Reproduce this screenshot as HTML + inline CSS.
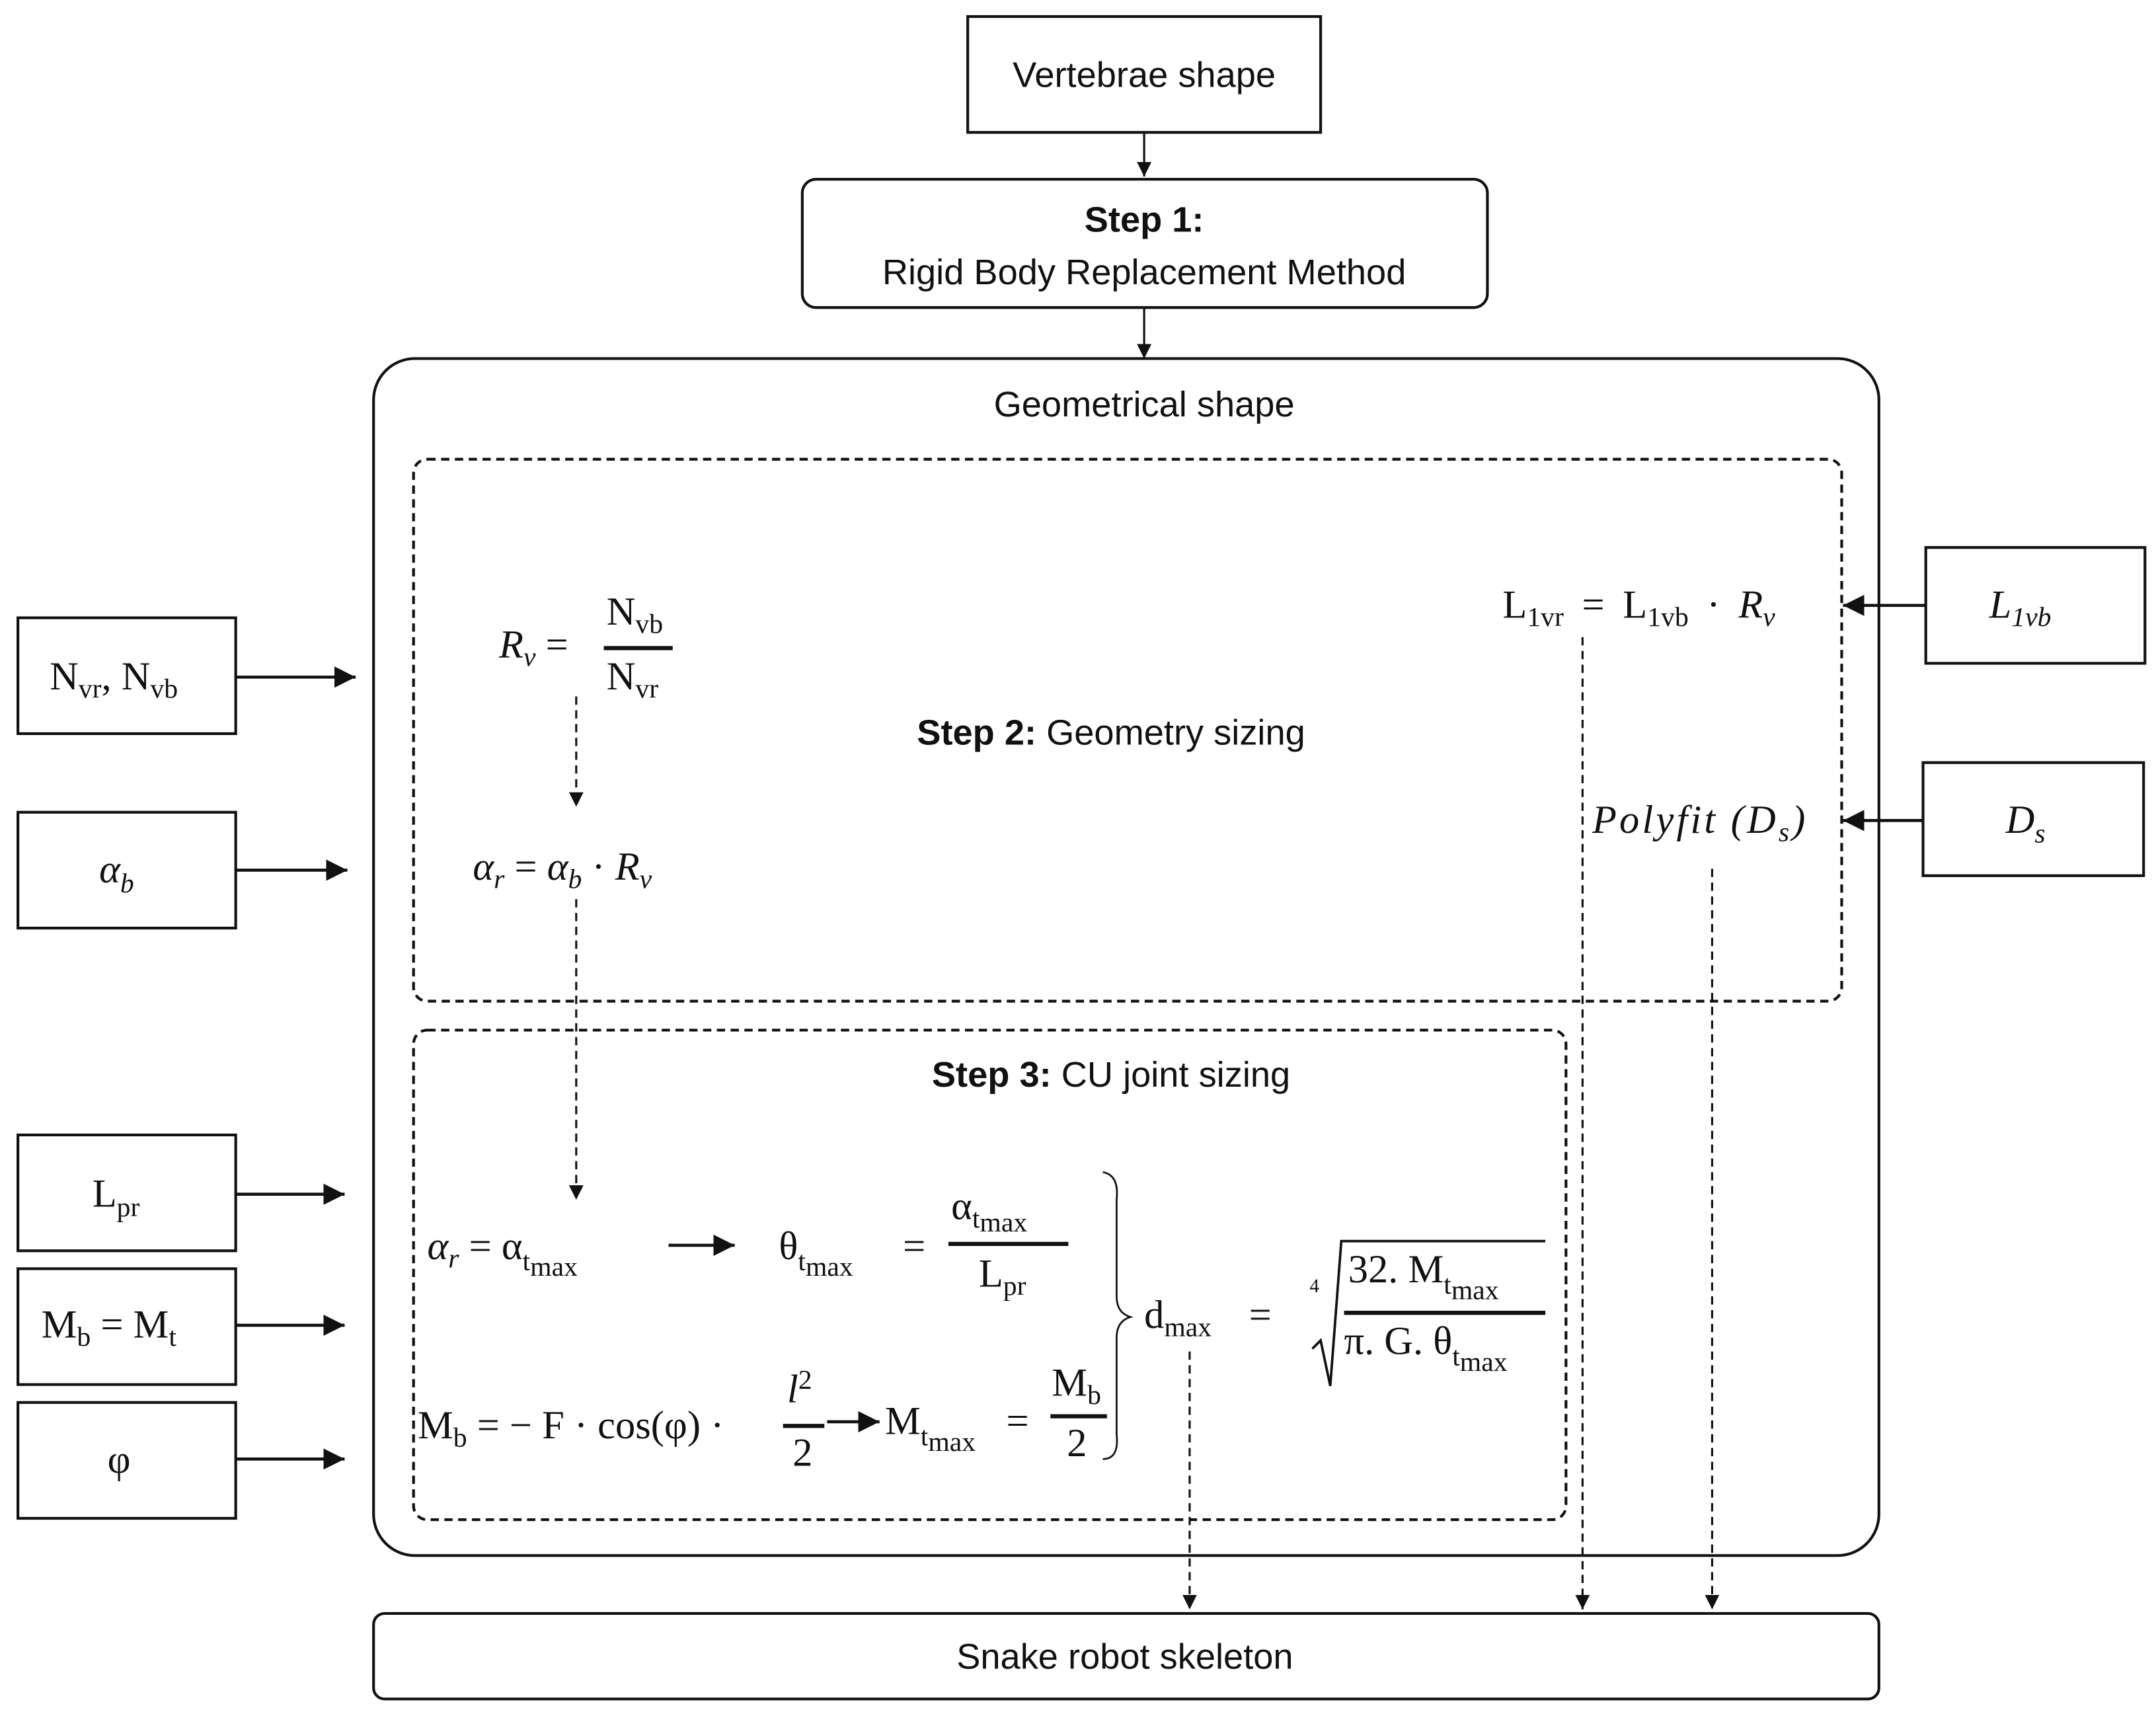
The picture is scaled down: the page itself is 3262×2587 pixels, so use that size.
<!DOCTYPE html>
<html><head><meta charset="utf-8"><style>
html,body{margin:0;padding:0;background:#fff;}
svg{display:block;}
.l{font-family:"Liberation Sans",sans-serif;font-size:26px;fill:#111;}
.m{font-family:"Liberation Serif",serif;font-size:29px;fill:#111;}
.i{font-style:italic;}
.s{font-size:20px;}
</style></head><body>
<svg width="3262" height="2587" viewBox="0 0 1564 1240" preserveAspectRatio="none" xmlns="http://www.w3.org/2000/svg">
<defs>
<marker id="a" viewBox="0 0 10 10" refX="10" refY="5" markerWidth="7" markerHeight="7" orient="auto-start-reverse"><path d="M0,0 L10,5 L0,10 z" fill="#111"/></marker>
</defs>
<g fill="none" stroke="#111" stroke-width="2">
<rect x="702" y="12" width="256" height="84"/>
<rect x="582" y="130" width="497" height="93" rx="10"/>
<rect x="271" y="260" width="1092" height="868" rx="30"/>
<rect x="271" y="1170" width="1092" height="62" rx="8"/>
<rect x="13" y="448" width="158" height="84"/>
<rect x="13" y="589" width="158" height="84"/>
<rect x="13" y="823" width="158" height="84"/>
<rect x="13" y="920" width="158" height="84"/>
<rect x="13" y="1017" width="158" height="84"/>
<rect x="1397" y="397" width="159" height="84"/>
<rect x="1395" y="553" width="160" height="82"/>
</g>
<g fill="none" stroke="#111" stroke-width="2" stroke-dasharray="6,4">
<rect x="300" y="333" width="1036" height="393" rx="10"/>
<rect x="300" y="747" width="836" height="355" rx="10"/>
</g>
<g stroke="#111" stroke-width="1.5" fill="none">
<line x1="830" y1="96" x2="830" y2="128" marker-end="url(#a)"/>
<line x1="830" y1="223" x2="830" y2="260" marker-end="url(#a)"/>
</g>
<g stroke="#111" stroke-width="2.2" fill="none">
<line x1="171" y1="491" x2="258" y2="491" marker-end="url(#a)"/>
<line x1="171" y1="631" x2="252" y2="631" marker-end="url(#a)"/>
<line x1="171" y1="866" x2="250" y2="866" marker-end="url(#a)"/>
<line x1="171" y1="961" x2="250" y2="961" marker-end="url(#a)"/>
<line x1="171" y1="1058" x2="250" y2="1058" marker-end="url(#a)"/>
<line x1="1397" y1="439" x2="1337" y2="439" marker-end="url(#a)"/>
<line x1="1395" y1="595" x2="1337" y2="595" marker-end="url(#a)"/>
<line x1="485" y1="903" x2="533" y2="903" marker-end="url(#a)"/>
<line x1="600" y1="1031" x2="638" y2="1031" marker-end="url(#a)"/>
</g>
<g stroke="#111" stroke-width="1.5" fill="none" stroke-dasharray="6,4">
<line x1="418" y1="505" x2="418" y2="585" marker-end="url(#a)"/>
<line x1="418" y1="652" x2="418" y2="870" marker-end="url(#a)"/>
<line x1="1148" y1="462" x2="1148" y2="1167" marker-end="url(#a)"/>
<line x1="1242" y1="630" x2="1242" y2="1167" marker-end="url(#a)"/>
<line x1="863" y1="980" x2="863" y2="1167" marker-end="url(#a)"/>
</g>
<g class="l" text-anchor="middle">
<text x="830" y="63">Vertebrae shape</text>
<text x="830" y="168" font-weight="bold">Step 1:</text>
<text x="830" y="206">Rigid Body Replacement Method</text>
<text x="830" y="302">Geometrical shape</text>
<text x="806" y="540"><tspan font-weight="bold">Step 2:</tspan> Geometry sizing</text>
<text x="806" y="788"><tspan font-weight="bold">Step 3:</tspan> CU joint sizing</text>
<text x="816" y="1210">Snake robot skeleton</text>
</g>
<g class="m">
<text x="36" y="500">N<tspan class="s" dy="6">vr</tspan><tspan dy="-6">, N</tspan><tspan class="s" dy="6">vb</tspan></text>
<text x="72" y="640" class="i">α<tspan class="s" dy="7">b</tspan></text>
<text x="67" y="875">L<tspan class="s" dy="7">pr</tspan></text>
<text x="30" y="970">M<tspan class="s" dy="6">b</tspan><tspan dy="-6"> = M</tspan><tspan class="s" dy="6">t</tspan></text>
<text x="78" y="1068">φ</text>
<text x="1443" y="448" class="i">L<tspan class="s" dy="6">1vb</tspan></text>
<text x="1455" y="604" class="i">D<tspan class="s" dy="7">s</tspan></text>
<text x="362" y="477" class="i">R<tspan class="s" dy="6">v</tspan><tspan dy="-6" font-style="normal"> =</tspan></text>
<text x="440" y="453">N<tspan class="s" dy="6">vb</tspan></text>
<text x="440" y="500">N<tspan class="s" dy="6">vr</tspan></text>
<text x="343" y="638" class="i">α<tspan class="s" dy="6">r</tspan><tspan dy="-6" font-style="normal"> = </tspan>α<tspan class="s" dy="6">b</tspan><tspan dy="-6" font-style="normal"> · </tspan>R<tspan class="s" dy="6">v</tspan></text>
<text x="1090" y="448" word-spacing="6">L<tspan class="s" dy="6">1vr</tspan><tspan dy="-6">  =  L</tspan><tspan class="s" dy="6">1vb</tspan><tspan dy="-6">  ·  </tspan><tspan class="i">R</tspan><tspan class="s i" dy="6">v</tspan></text>
<text x="1155" y="604" class="i" letter-spacing="2">Polyfit (D<tspan class="s" dy="6">s</tspan><tspan dy="-6">)</tspan></text>
<text x="310" y="913"><tspan class="i">α</tspan><tspan class="s i" dy="6">r</tspan><tspan dy="-6"> = α</tspan><tspan class="s" dy="8">t</tspan><tspan class="s" dy="4">max</tspan></text>
<text x="565" y="913">θ<tspan class="s" dy="8">t</tspan><tspan class="s" dy="4">max</tspan></text>
<text x="655" y="913">=</text>
<text x="690" y="884">α<tspan class="s" dy="6">t</tspan><tspan class="s" dy="3">max</tspan></text>
<text x="710" y="933">L<tspan class="s" dy="6">pr</tspan></text>
<text x="830" y="963">d<tspan class="s" dy="6">max</tspan></text>
<text x="906" y="963">=</text>
<text x="950" y="937" font-size="14">4</text>
<text x="978" y="930">32. M<tspan class="s" dy="8">t</tspan><tspan class="s" dy="4">max</tspan></text>
<text x="975" y="982">π. G. θ<tspan class="s" dy="8">t</tspan><tspan class="s" dy="4">max</tspan></text>
<text x="303" y="1043">M<tspan class="s" dy="6">b</tspan><tspan dy="-6"> = − F · cos(φ) ·</tspan></text>
<text x="571" y="1017" class="i">l<tspan class="s" dy="-10" font-style="normal">2</tspan></text>
<text x="575" y="1063">2</text>
<text x="642" y="1040">M<tspan class="s" dy="8">t</tspan><tspan class="s" dy="4">max</tspan></text>
<text x="730" y="1040">=</text>
<text x="763" y="1012">M<tspan class="s" dy="6">b</tspan></text>
<text x="774" y="1056">2</text>
</g>
<g stroke="#111" fill="none">
<line x1="438" y1="470" x2="488" y2="470" stroke-width="3"/>
<line x1="688" y1="902" x2="775" y2="902" stroke-width="3"/>
<line x1="568" y1="1034" x2="598" y2="1034" stroke-width="3"/>
<line x1="762" y1="1027" x2="803" y2="1027" stroke-width="3"/>
<line x1="975" y1="952" x2="1121" y2="952" stroke-width="3"/>
<polyline points="952,978 958,972 965,1005 973,900 1121,900" stroke-width="1.8"/>
<path d="M800,850 Q812,852 810,870 L810,940 Q810,952 820,955 Q810,958 810,970 L810,1040 Q812,1058 800,1058" stroke-width="1.3"/>
</g>
</svg>
</body></html>
